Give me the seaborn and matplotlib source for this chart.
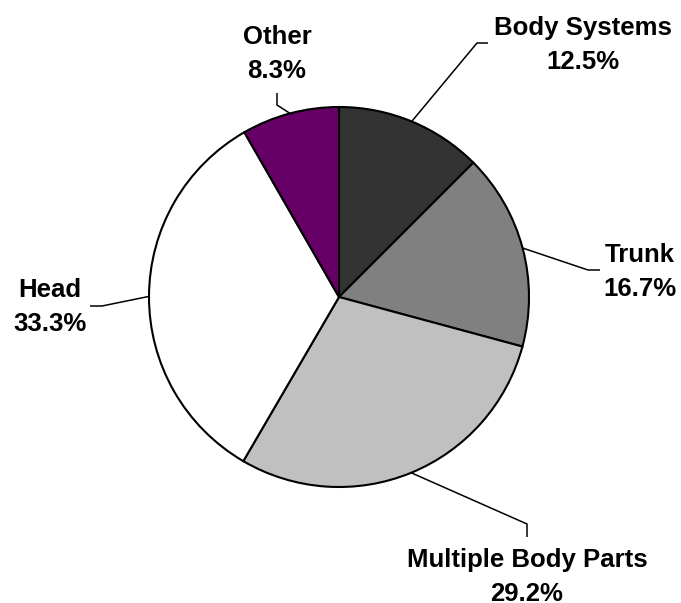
import numpy as np
import seaborn as sns
import matplotlib.pyplot as plt

# dati
categories = ['Body Systems', 'Trunk', 'Multiple Body Parts', 'Head', 'Other']
shares = [12.5, 16.7, 29.2, 33.3, 8.3]
colors = ['#333333', '#808080', '#c0c0c0', '#ffffff', '#660066']

sns.set_theme(style='white')
plt.rcParams['font.family'] = ['Liberation Sans', 'DejaVu Sans']

W, H = 681, 603
fig = plt.figure(figsize=(W / 100, H / 100), dpi=100)
ax = fig.add_axes([0, 0, 1, 1])


def px(x, y):
    # coordinate in pixel (origine in alto a sinistra) -> coordinate dati
    return x, H - y


cx, cy = px(339, 297)
r = 190

wedges, _ = ax.pie(shares, colors=colors, startangle=90, counterclock=False,
                   center=(cx, cy), radius=r, frame=True,
                   wedgeprops=dict(edgecolor='black', linewidth=1.5))

# layout etichette: gomito della linea, fine della linea, centro testo, baseline prima riga
layout = {
    'Body Systems': ((477, 43), (488, 43), 583, 35),
    'Trunk': ((588, 270), (600, 270), 640, 262),
    'Multiple Body Parts': ((527, 524), (527, 537), 527, 567),
    'Head': ((102, 306), (90, 306), 50, 297),
    'Other': ((277, 105), (277, 93), 277, 44),
}

for w, name, v in zip(wedges, categories, shares):
    ang = np.deg2rad((w.theta1 + w.theta2) / 2)
    x0, y0 = cx + r * np.cos(ang), cy + r * np.sin(ang)
    elbow, end, tx, ty = layout[name]
    x1, y1 = px(*elbow)
    x2, y2 = px(*end)
    ax.plot([x0, x1, x2], [y0, y1, y2], color='black', linewidth=1.1,
            solid_capstyle='butt', zorder=0)
    ax.text(*px(tx, ty), name, ha='center', va='baseline',
            fontsize=18.5, fontweight='bold', color='black')
    ax.text(*px(tx, ty + 34), f'{v:.1f}%', ha='center', va='baseline',
            fontsize=18.5, fontweight='bold', color='black')

ax.set_xlim(0, W)
ax.set_ylim(0, H)
ax.set_aspect('equal')
ax.axis('off')

plt.savefig('out.png', dpi=100)
